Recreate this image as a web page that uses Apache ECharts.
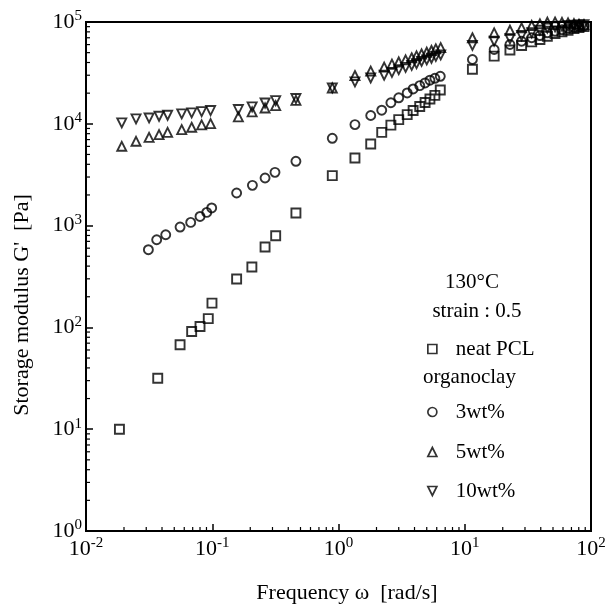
<!DOCTYPE html>
<html><head><meta charset="utf-8">
<script src="https://cdn.jsdelivr.net/npm/echarts@6/dist/echarts.min.js"></script>
<style>html,body{margin:0;padding:0;background:#fff}#c{width:611px;height:607px}</style>
</head><body><div id="c"></div>
<script>
// ---- data ----
const xTickValues = [0.01, 0.1, 1, 10, 100];
const yTickValues = [1, 10, 100, 1000, 10000, 100000];

const neatX = [0.0184, 0.037, 0.0556, 0.0687, 0.080, 0.093, 0.0995, 0.156, 0.206, 0.262, 0.318, 0.46, 0.893, 1.35, 1.80, 2.2, 2.6, 3.0, 3.5, 3.9, 4.4, 4.85, 5.3, 5.8, 6.4, 11.5, 17.1, 22.8, 28.2, 33.9, 39.4, 45.1, 51.9, 58.9, 65.8, 73.3, 80.3, 88.0];
const neatY = [10, 31.7, 67.5, 91, 102, 122, 173, 299, 392, 617, 796, 1330, 3100, 4620, 6340, 8240, 9700, 11000, 12300, 13500, 14800, 16200, 17500, 19000, 21500, 34400, 46200, 53000, 58700, 63800, 67300, 72400, 77100, 80000, 83000, 86000, 88000, 90000];

const clay3X = [0.0312, 0.0363, 0.0428, 0.0556, 0.0675, 0.080, 0.0904, 0.099, 0.156, 0.208, 0.262, 0.314, 0.46, 0.893, 1.35, 1.80, 2.2, 2.6, 3.0, 3.5, 3.9, 4.4, 4.85, 5.3, 5.8, 6.4, 11.5, 17.1, 22.8, 28.2, 33.9, 39.4, 45.1, 51.9, 58.9, 65.8, 73.3, 80.3, 88.0];
const clay3Y = [580, 726, 813, 968, 1075, 1230, 1348, 1490, 2090, 2485, 2935, 3335, 4280, 7200, 9820, 12060, 13600, 16100, 18000, 20100, 22000, 23700, 25200, 26800, 28000, 29300, 42800, 53700, 60100, 64700, 70000, 73600, 78300, 81000, 84000, 86500, 88500, 90000, 91500];

const triX = [0.0192, 0.0249, 0.0316, 0.0379, 0.0443, 0.0573, 0.0687, 0.0824, 0.097, 0.161, 0.207, 0.262, 0.318, 0.46, 0.893, 1.35, 1.80, 2.3, 2.65, 3.0, 3.4, 3.8, 4.15, 4.55, 5.0, 5.45, 5.9, 6.45, 11.5, 17.1, 22.8, 28.2, 33.9, 39.4, 45.1, 51.9, 58.9, 65.8, 73.3, 80.3, 88.0];
const clay5Y = [6010, 6730, 7360, 7830, 8240, 8770, 9240, 9750, 10050, 11700, 13100, 14300, 15100, 17000, 22500, 29800, 32900, 36000, 38500, 40500, 42500, 44500, 46500, 48500, 50500, 52500, 54500, 56000, 70000, 78300, 83000, 87700, 92400, 96000, 99500, 100000, 99000, 98000, 96500, 95000, 94000];
const clay10Y = [10200, 11170, 11420, 11860, 12130, 12510, 12800, 13180, 13490, 13800, 14650, 16000, 16900, 17700, 22500, 25800, 28200, 30000, 32000, 34000, 35800, 37500, 39000, 41000, 42500, 44000, 46000, 47500, 59000, 64700, 68400, 73600, 78300, 83000, 87000, 89700, 91000, 92000, 93000, 93500, 94000];

const seriesNames = ['neat PCL', '3wt%', '5wt%', '10wt%'];
const headerTexts = ['130°C', 'strain : 0.5', 'organoclay'];

// ---- build ----
const FONT = 'Liberation Serif';
function zip(a, b) { return a.map((v, i) => [v, b[i]]); }
const minorX = [], minorY = [];
for (let k = -2; k <= 1; k++) for (let m = 2; m <= 9; m++) minorX.push([m * Math.pow(10, k), 1]);
for (let k = 0; k <= 4; k++) for (let m = 2; m <= 9; m++) minorY.push([0.01, m * Math.pow(10, k)]);

const markStyle = { color: 'rgba(0,0,0,0)', borderColor: '#000', borderWidth: 1.9 };
function sc(name, data, symbol, rot) {
  return { type: 'scatter', name, data, symbol, symbolSize: 9, symbolRotate: rot || 0,
    itemStyle: markStyle, z: 5, silent: true };
}
const rich = {
  b: { fontFamily: FONT, fontSize: 22, lineHeight: 26, color: '#000' },
  s: { fontFamily: FONT, fontSize: 15, lineHeight: 15, verticalAlign: 'top', color: '#000' }
};
function expFmt(v) { const e = Math.round(Math.log10(v)); return '{b|10}{s|' + e + '}'; }

const legendIcons = ['rect', 'circle', 'triangle', 'path://M0,0 L10,0 L5,10 Z'];
const legendRows = [ [0, 344], [1, 407], [2, 447], [3, 486] ];
const legends = legendRows.map(([i, cy]) => ({
  data: [{ name: seriesNames[i], icon: legendIcons[i] }], left: 422, top: cy - 12, orient: 'vertical',
  itemWidth: 9, itemHeight: 9, selectedMode: false,
  itemStyle: { color: 'rgba(0,0,0,0)', borderColor: '#000', borderWidth: 1.7 },
  textStyle: { fontFamily: FONT, fontSize: 21, lineHeight: 24, color: '#000', padding: [0, 0, 0, 14] }
}));

const chart = echarts.init(document.getElementById('c'));
chart.setOption({
  animation: false,
  backgroundColor: '#fff',
  grid: { left: 86, top: 22, right: 20, bottom: 76, show: true, borderColor: '#000', borderWidth: 2, backgroundColor: 'transparent' },
  xAxis: { type: 'log', logBase: 10, min: xTickValues[0], max: xTickValues[xTickValues.length - 1],
    splitLine: { show: false }, axisLine: { show: false },
    axisTick: { inside: true, length: 7, lineStyle: { color: '#000', width: 1.5 } },
    axisLabel: { formatter: expFmt, rich, margin: 5, color: '#000' } },
  yAxis: { type: 'log', logBase: 10, min: yTickValues[0], max: yTickValues[yTickValues.length - 1],
    splitLine: { show: false }, axisLine: { show: false },
    axisTick: { inside: true, length: 7, lineStyle: { color: '#000', width: 1.5 } },
    axisLabel: { formatter: expFmt, rich, margin: 4, color: '#000' } },
  legend: legends,
  graphic: [
    { type: 'text', x: 472, y: 282, style: { text: headerTexts[0], font: '21px "' + FONT + '"', fill: '#000', align: 'center', verticalAlign: 'middle' } },
    { type: 'text', x: 477, y: 311, style: { text: headerTexts[1], font: '21px "' + FONT + '"', fill: '#000', align: 'center', verticalAlign: 'middle' } },
    { type: 'text', x: 423, y: 377, style: { text: headerTexts[2], font: '21px "' + FONT + '"', fill: '#000', align: 'left', verticalAlign: 'middle' } },
    { type: 'text', x: 347, y: 593, style: { text: 'Frequency ω  [rad/s]', font: '22px "' + FONT + '"', fill: '#000', align: 'center', verticalAlign: 'middle' } },
    { type: 'text', x: 22, y: 305, rotation: Math.PI / 2, style: { text: "Storage modulus G'  [Pa]", font: '22px "' + FONT + '"', fill: '#000', align: 'center', verticalAlign: 'middle' } }
  ],
  series: [
    sc(seriesNames[0], zip(neatX, neatY), 'rect'),
    sc(seriesNames[1], zip(clay3X, clay3Y), 'circle'),
    sc(seriesNames[2], zip(triX, clay5Y), 'triangle'),
    sc(seriesNames[3], zip(triX, clay10Y), 'triangle', 180),
    { type: 'custom', silent: true, data: minorX, clip: false, z: 3,
      renderItem: (p, api) => { const c = api.coord([api.value(0), api.value(1)]);
        return { type: 'line', shape: { x1: c[0], y1: c[1], x2: c[0], y2: c[1] - 4 }, style: { stroke: '#000', lineWidth: 1.2 } }; } },
    { type: 'custom', silent: true, data: minorY, clip: false, z: 3,
      renderItem: (p, api) => { const c = api.coord([api.value(0), api.value(1)]);
        return { type: 'line', shape: { x1: c[0], y1: c[1], x2: c[0] + 4, y2: c[1] }, style: { stroke: '#000', lineWidth: 1.2 } }; } }
  ]
});
</script></body></html>
